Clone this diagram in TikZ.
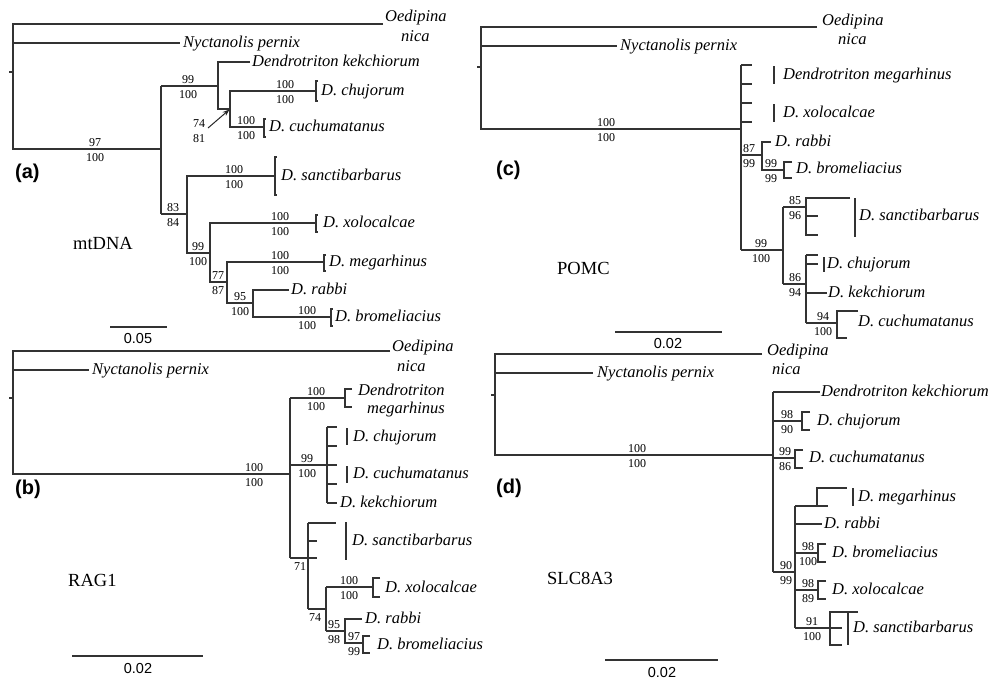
\documentclass[tikz,border=0pt]{standalone}
\usepackage{fontspec}
\setmainfont{Liberation Serif}
\newfontfamily\panelsans{Liberation Sans}
\usetikzlibrary{arrows.meta}
\newcommand{\leaffont}{\fontsize{16.5}{18}\selectfont\itshape}
\newcommand{\supfont}{\fontsize{12}{13}\selectfont}
\newcommand{\genefont}{\fontsize{18.5}{20}\selectfont}
\newcommand{\panelfont}{\fontsize{20}{22}\selectfont\panelsans\bfseries}
\newcommand{\barfont}{\fontsize{14.5}{16}\selectfont\panelsans}
\tikzset{
  leaf/.style={anchor=base west, inner sep=0pt, font=\leaffont, yshift=-4.5pt},
  leafb/.style={anchor=base west, inner sep=0pt, font=\leaffont},
  supt/.style={anchor=base, inner sep=0pt, font=\supfont, yshift=2.5pt},
  supb/.style={anchor=base, inner sep=0pt, font=\supfont, yshift=-12pt},
  gene/.style={anchor=base west, inner sep=0pt, font=\genefont},
  panel/.style={anchor=base west, inner sep=0pt, font=\panelfont},
  scalelbl/.style={anchor=base, inner sep=0pt, font=\barfont},
  branch/.style={line width=1.25pt, draw=black!80},
  rootbar/.style={line width=2.2pt, draw=black!80},
}
% support values above and below a branch
\newcommand{\bsupp}[5]{%
  \node[supt] (#1t) at (#2,#3) {#4};
  \node[supb] (#1b) at (#2,#3) {#5};}
% small fork at the tips: x, top y, bottom y, stub length
\newcommand{\tipfork}[4]{%
  \draw[branch] (#1+#4,#2) -- (#1,#2) -- (#1,#3) -- (#1+#4,#3);}

\begin{document}
\begin{tikzpicture}[x=1pt, y=-1pt]
  \useasboundingbox (0,0) rectangle (991,681);

  % ---------- (a) mtDNA
  \draw[branch] (9,72) -- (13,72);
  \draw[branch] (383,24) -- (13,24) -- (13,149) -- (161,149);
  \draw[rootbar] (13,43) -- (13,72);
  \draw[branch] (13,43) -- (180,43);
  \node[leafb] (aoed) at (385,21) {Oedipina};
  \node[leafb] (anica) at (401,41) {nica};
  \node[leaf] (anyc) at (183,43) {Nyctanolis pernix};
  \draw[branch] (161,86) -- (161,214);
  \draw[branch] (161,86) -- (218,86);
  \draw[branch] (250,62) -- (218,62) -- (218,109) -- (230,109);
  \draw[branch] (316,91) -- (230,91) -- (230,127) -- (264,127);
  \tipfork{316}{81}{101}{1.5}
  \tipfork{264}{119}{137}{1.5}
  \draw[branch] (161,214) -- (187,214);
  \draw[branch] (275,176) -- (187,176) -- (187,253) -- (210,253);
  \tipfork{275}{157}{195}{1.5}
  \draw[branch] (316,223) -- (210,223) -- (210,282) -- (227,282);
  \tipfork{316}{215}{232}{1.5}
  \draw[branch] (324,262) -- (227,262) -- (227,303) -- (253,303);
  \tipfork{324}{255}{271}{1.5}
  \draw[branch] (289,290) -- (253,290) -- (253,317) -- (331,317);
  \tipfork{331}{309}{326}{1.5}
  \node[leaf] (akek) at (252,62) {Dendrotriton kekchiorum};
  \node[leaf] (achu) at (321,91) {D. chujorum};
  \node[leaf] (acuc) at (269,127) {D. cuchumatanus};
  \node[leaf] (asan) at (281,176) {D. sanctibarbarus};
  \node[leaf] (axol) at (323,223) {D. xolocalcae};
  \node[leaf] (ameg) at (329,262) {D. megarhinus};
  \node[leaf] (arab) at (291,290) {D. rabbi};
  \node[leaf] (abro) at (335,317) {D. bromeliacius};
  \bsupp{a1}{95}{149}{97}{100}
  \bsupp{a2}{188}{86}{99}{100}
  \bsupp{a3}{285}{91}{100}{100}
  \bsupp{a4}{246}{127}{100}{100}
  \bsupp{a5}{199}{130}{74}{81}
  \bsupp{a6}{173}{214}{83}{84}
  \bsupp{a7}{234}{176}{100}{100}
  \bsupp{a8}{198}{253}{99}{100}
  \bsupp{a9}{280}{223}{100}{100}
  \bsupp{a10}{218}{282}{77}{87}
  \bsupp{a11}{280}{262}{100}{100}
  \bsupp{a12}{240}{303}{95}{100}
  \bsupp{a13}{307}{317}{100}{100}
  \coordinate (atail) at (208,128);
  \coordinate (ahead) at (229.5,109.5);
  \draw[line width=1pt, draw=black!85, -{Stealth[length=7pt,width=5pt]}] (atail) -- (ahead);
  \draw[branch] (110,327) -- (167,327);
  \node[scalelbl] (ascale) at (138,343) {0.05};
  \node[panel] (alab) at (15,178) {(a)};
  \node[gene] (agene) at (73,249) {mtDNA};

  % ---------- (b) RAG1
  \draw[branch] (9,398) -- (13,398);
  \draw[branch] (390,351) -- (13,351) -- (13,474) -- (290,474);
  \draw[rootbar] (13,370) -- (13,398);
  \draw[branch] (13,370) -- (89,370);
  \node[leafb] (boed) at (392,351) {Oedipina};
  \node[leafb] (bnica) at (397,371) {nica};
  \node[leaf] (bnyc) at (92,370) {Nyctanolis pernix};
  \draw[branch] (290,398) -- (290,558);
  \draw[branch] (290,398) -- (345,398);
  \tipfork{345}{389}{407}{7}
  \node[leafb] (bden) at (358,395) {Dendrotriton};
  \node[leafb] (bmeg) at (367,413) {megarhinus};
  \draw[branch] (290,465) -- (337,465);
  \draw[branch] (327,427) -- (327,503);
  \foreach \yy in {427,446,484,503} {
    \draw[branch] (327,\yy) -- (337,\yy);
  }
  \draw[branch] (347,428) -- (347,445);
  \draw[branch] (347,466) -- (347,483);
  \node[leaf] (bchu) at (353,437) {D. chujorum};
  \node[leaf] (bcuc) at (353,474) {D. cuchumatanus};
  \node[leaf] (bkek) at (340,503) {D. kekchiorum};
  \draw[branch] (290,558) -- (317,558);
  \draw[branch] (308,523) -- (308,609);
  \draw[branch] (308,523) -- (336,523);
  \draw[branch] (308,541) -- (317,541);
  \draw[branch] (346,522) -- (346,560);
  \node[leaf] (bsan) at (352,541) {D. sanctibarbarus};
  \draw[branch] (308,609) -- (326,609);
  \draw[branch] (326,587) -- (326,631);
  \draw[branch] (326,587) -- (373,587);
  \tipfork{373}{578}{597}{7}
  \node[leaf] (bxol) at (385,588) {D. xolocalcae};
  \draw[branch] (326,631) -- (345,631);
  \draw[branch] (362,619) -- (345,619) -- (345,643) -- (363,643);
  \tipfork{363}{636}{653}{7}
  \node[leaf] (brab) at (365,619) {D. rabbi};
  \node[leaf] (bbro) at (377,645) {D. bromeliacius};
  \bsupp{b1}{254}{474}{100}{100}
  \bsupp{b2}{316}{398}{100}{100}
  \bsupp{b3}{307}{465}{99}{100}
  \node[supb] (b4b) at (300,558) {71};
  \node[supb] (b5b) at (315,609) {74};
  \bsupp{b6}{349}{587}{100}{100}
  \bsupp{b7}{334}{631}{95}{98}
  \bsupp{b8}{354}{643}{97}{99}
  \draw[branch] (72,656) -- (203,656);
  \node[scalelbl] (bscale) at (138,673) {0.02};
  \node[panel] (blab) at (15,494) {(b)};
  \node[gene] (bgene) at (68,586) {RAG1};

  % ---------- (c) POMC
  \draw[branch] (477,67) -- (481,67);
  \draw[branch] (817,27) -- (481,27) -- (481,129) -- (741,129);
  \draw[rootbar] (481,46) -- (481,67);
  \draw[branch] (481,46) -- (617,46);
  \node[leafb] (coed) at (822,25) {Oedipina};
  \node[leafb] (cnica) at (838,44) {nica};
  \node[leaf] (cnyc) at (620,46) {Nyctanolis pernix};
  \draw[branch] (741,65) -- (741,250);
  \foreach \yy in {65,84,103,122} {
    \draw[branch] (741,\yy) -- (752,\yy);
  }
  \draw[branch] (774,66) -- (774,84);
  \draw[branch] (774,104) -- (774,122);
  \node[leaf] (cmeg) at (783,75) {Dendrotriton megarhinus};
  \node[leaf] (cxol) at (783,113) {D. xolocalcae};
  \draw[branch] (741,155) -- (762,155);
  \draw[branch] (771,142) -- (762,142) -- (762,170) -- (784,170);
  \tipfork{784}{162}{178}{8}
  \node[leaf] (crab) at (775,142) {D. rabbi};
  \node[leaf] (cbro) at (796,169) {D. bromeliacius};
  \draw[branch] (741,250) -- (783,250);
  \draw[branch] (783,207) -- (783,284);
  \draw[branch] (783,207) -- (806,207);
  \draw[branch] (850,198) -- (806,198) -- (806,235) -- (818,235);
  \draw[branch] (806,216) -- (818,216);
  \draw[branch] (855,198) -- (855,237);
  \node[leaf] (csan) at (859,216) {D. sanctibarbarus};
  \draw[branch] (783,284) -- (806,284);
  \draw[branch] (806,255) -- (806,323);
  \draw[branch] (806,255) -- (818,255);
  \draw[branch] (806,264) -- (818,264);
  \draw[branch] (824,257) -- (824,272);
  \node[leaf] (cchu) at (827,264) {D. chujorum};
  \draw[branch] (806,293) -- (827,293);
  \node[leaf] (ckek) at (828,293) {D. kekchiorum};
  \draw[branch] (806,323) -- (837,323);
  \draw[branch] (858,311) -- (837,311) -- (837,338) -- (847,338);
  \node[leaf] (ccuc) at (858,322) {D. cuchumatanus};
  \bsupp{c1}{606}{129}{100}{100}
  \bsupp{c2}{749}{155}{87}{99}
  \bsupp{c3}{771}{170}{99}{99}
  \bsupp{c4}{761}{250}{99}{100}
  \bsupp{c5}{795}{207}{85}{96}
  \bsupp{c6}{795}{284}{86}{94}
  \bsupp{c7}{823}{323}{94}{100}
  \draw[branch] (615,332) -- (722,332);
  \node[scalelbl] (cscale) at (668,348) {0.02};
  \node[panel] (clab) at (496,175) {(c)};
  \node[gene] (cgene) at (557,274) {POMC};

  % ---------- (d) SLC8A3
  \draw[branch] (491,395) -- (495,395);
  \draw[branch] (762,354) -- (495,354) -- (495,455) -- (773,455);
  \draw[rootbar] (495,373) -- (495,395);
  \draw[branch] (495,373) -- (593,373);
  \node[leafb] (doed) at (767,355) {Oedipina};
  \node[leafb] (dnica) at (772,374) {nica};
  \node[leaf] (dnyc) at (597,373) {Nyctanolis pernix};
  \draw[branch] (773,392) -- (773,572);
  \draw[branch] (773,392) -- (820,392);
  \node[leaf] (dkek) at (821,392) {Dendrotriton kekchiorum};
  \draw[branch] (773,421) -- (802,421);
  \tipfork{802}{412}{430}{8}
  \node[leaf] (dchu) at (817,421) {D. chujorum};
  \draw[branch] (773,458) -- (795,458);
  \tipfork{795}{450}{468}{8}
  \node[leaf] (dcuc) at (809,458) {D. cuchumatanus};
  \draw[branch] (773,572) -- (795,572);
  \draw[branch] (795,506) -- (795,628);
  \draw[branch] (795,506) -- (828,506);
  \draw[branch] (817,506) -- (817,488) -- (847,488);
  \draw[branch] (853,488) -- (853,506);
  \node[leaf] (dmeg) at (858,497) {D. megarhinus};
  \draw[branch] (795,524) -- (822,524);
  \node[leaf] (drab) at (824,524) {D. rabbi};
  \draw[branch] (795,553) -- (818,553);
  \tipfork{818}{544}{562}{8}
  \node[leaf] (dbro) at (832,553) {D. bromeliacius};
  \draw[branch] (795,590) -- (818,590);
  \tipfork{818}{581}{599}{8}
  \node[leaf] (dxol) at (832,590) {D. xolocalcae};
  \draw[branch] (795,628) -- (842,628);
  \draw[branch] (858,612) -- (830,612) -- (830,645) -- (842,645);
  \draw[branch] (848,612) -- (848,645);
  \node[leaf] (dsan) at (853,628) {D. sanctibarbarus};
  \bsupp{d1}{637}{455}{100}{100}
  \bsupp{d2}{787}{421}{98}{90}
  \bsupp{d3}{785}{458}{99}{86}
  \bsupp{d4}{786}{572}{90}{99}
  \bsupp{d5}{808}{553}{98}{100}
  \bsupp{d6}{808}{590}{98}{89}
  \bsupp{d7}{812}{628}{91}{100}
  \draw[branch] (605,660) -- (718,660);
  \node[scalelbl] (dscale) at (662,677) {0.02};
  \node[panel] (dlab) at (496,493) {(d)};
  \node[gene] (dgene) at (547,584) {SLC8A3};
\end{tikzpicture}
\end{document}
